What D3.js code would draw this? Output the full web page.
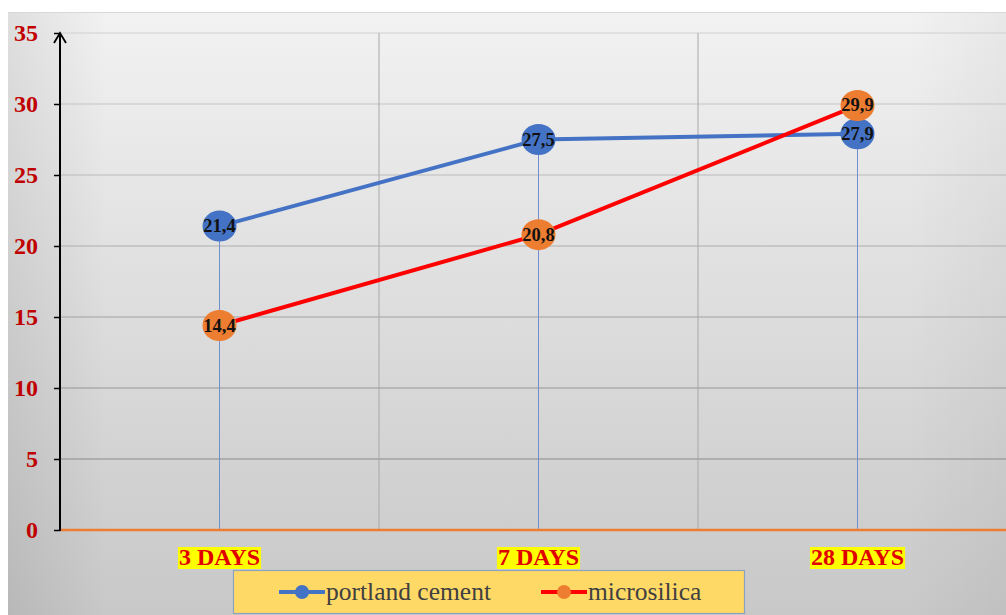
<!DOCTYPE html>
<html><head><meta charset="utf-8">
<script src="https://cdn.jsdelivr.net/npm/d3@7"></script>
<style>html,body{margin:0;padding:0;background:#fff;}svg{display:block;}</style>
</head><body>
<script>
const categories = ["3 DAYS", "7 DAYS", "28 DAYS"];
const portland = [21.4, 27.5, 27.9];
const microsilica = [14.4, 20.8, 29.9];
const portlandLabels = ["21,4", "27,5", "27,9"];
const microLabels = ["14,4", "20,8", "29,9"];
const yTicks = [0, 5, 10, 15, 20, 25, 30, 35];
const seriesNames = ["portland cement", "microsilica"];

const W = 1006, H = 615;
const svg = d3.select("body").append("svg").attr("width", W).attr("height", H);
const defs = svg.append("defs");
const bg = defs.append("linearGradient").attr("id", "bg").attr("x1", 0).attr("y1", 0).attr("x2", 0).attr("y2", 1);
bg.append("stop").attr("offset", "0%").attr("stop-color", "#f2f2f2");
bg.append("stop").attr("offset", "100%").attr("stop-color", "#c8c8c8");
const side = defs.append("linearGradient").attr("id", "side").attr("x1", 0).attr("y1", 0).attr("x2", 1).attr("y2", 0);
side.append("stop").attr("offset", "0%").attr("stop-color", "#000").attr("stop-opacity", 0.08);
side.append("stop").attr("offset", "10%").attr("stop-color", "#000").attr("stop-opacity", 0);
side.append("stop").attr("offset", "90%").attr("stop-color", "#000").attr("stop-opacity", 0);
side.append("stop").attr("offset", "100%").attr("stop-color", "#000").attr("stop-opacity", 0.04);

svg.append("rect").attr("x", 8).attr("y", 12).attr("width", W - 8).attr("height", H - 12).attr("fill", "url(#bg)");
svg.append("rect").attr("x", 8).attr("y", 12).attr("width", W - 8).attr("height", H - 12).attr("fill", "url(#side)");
svg.append("line").attr("x1", 8).attr("x2", W).attr("y1", 12.5).attr("y2", 12.5).attr("stroke", "#d8d8d8");

const x = d3.scaleBand().domain(categories).range([60, 1017]);
const y = d3.scaleLinear().domain([0, 35]).range([530, 33]);
const cx = c => x(c) + x.bandwidth() / 2;
const serif = "'Liberation Serif', 'Times New Roman', serif";

// horizontal grid
const gridCol = d3.scaleLinear().domain([0, 35]).range(["#7e7e7e", "#d0d0d0"]);
svg.append("g").selectAll("line").data(yTicks.filter(t => t > 0)).join("line")
  .attr("x1", 60).attr("x2", W).attr("y1", d => y(d)).attr("y2", d => y(d))
  .attr("stroke", d => gridCol(d)).attr("stroke-width", 1.2);
// vertical grid at band boundaries
svg.append("g").selectAll("line").data(categories.slice(1)).join("line")
  .attr("x1", d => x(d)).attr("x2", d => x(d)).attr("y1", y(35)).attr("y2", y(0))
  .attr("stroke", "#a8a8a8").attr("stroke-width", 1);

// drop lines
svg.append("g").selectAll("line").data(categories).join("line")
  .attr("x1", (d) => cx(d)).attr("x2", d => cx(d))
  .attr("y1", (d, i) => y(Math.max(portland[i], microsilica[i]))).attr("y2", y(0))
  .attr("stroke", "#6f8fd0").attr("stroke-width", 1);

// zero line
svg.append("line").attr("x1", 60).attr("x2", W).attr("y1", y(0)).attr("y2", y(0))
  .attr("stroke", "#ED7D31").attr("stroke-width", 2.5);

// y axis
const yAxis = d3.axisLeft(y).tickValues(yTicks).tickSize(6).tickPadding(16).tickFormat(d3.format("d"));
const ya = svg.append("g").attr("transform", "translate(60,0)").call(yAxis);
ya.select(".domain").remove();
ya.selectAll(".tick line").attr("stroke", "#000").attr("stroke-width", 1.5);
ya.selectAll(".tick text").attr("fill", "#C00000").attr("font-family", serif).attr("font-weight", "bold").attr("font-size", 24).attr("dy", "0.3em");
svg.append("line").attr("x1", 60).attr("x2", 60).attr("y1", y(35)).attr("y2", y(0) + 1).attr("stroke", "#000").attr("stroke-width", 2);
svg.append("path").attr("d", `M${60 - 6},${y(35) + 10} L60,${y(35)} L${60 + 6},${y(35) + 10}`)
  .attr("fill", "none").attr("stroke", "#000").attr("stroke-width", 1.8);

// x labels
const xl = svg.append("g");
categories.forEach(c => {
  const g = xl.append("g");
  const t = g.append("text").attr("x", cx(c)).attr("y", 565).attr("text-anchor", "middle")
    .attr("font-family", serif).attr("font-weight", "bold").attr("font-size", 24).attr("fill", "#E00000").text(c);
  const bb = t.node().getBBox();
  g.insert("rect", "text").attr("x", bb.x - 1).attr("y", bb.y + 3).attr("width", bb.width + 2).attr("height", bb.height - 4).attr("fill", "#FFFF00");
});

// lines
const line = d3.line().x((d, i) => cx(categories[i])).y(d => y(d));
svg.append("path").datum(portland).attr("d", line).attr("fill", "none").attr("stroke", "#4472C4").attr("stroke-width", 4);
svg.append("path").datum(microsilica).attr("d", line).attr("fill", "none").attr("stroke", "#FF0000").attr("stroke-width", 4);

function markers(vals, labels, color) {
  const g = svg.append("g");
  g.selectAll("ellipse").data(vals).join("ellipse")
    .attr("cx", (d, i) => cx(categories[i])).attr("cy", d => y(d)).attr("rx", 17).attr("ry", 15.5).attr("fill", color);
  g.selectAll("text").data(vals).join("text")
    .attr("x", (d, i) => cx(categories[i])).attr("y", d => y(d) + 6).attr("text-anchor", "middle")
    .attr("font-family", serif).attr("font-weight", "bold").attr("font-size", 18.5).attr("fill", "#111")
    .text((d, i) => labels[i]);
}
markers(portland, portlandLabels, "#4472C4");
markers(microsilica, microLabels, "#ED7D31");

// legend
const lg = svg.append("g");
lg.append("rect").attr("x", 233.5).attr("y", 570.5).attr("width", 511).attr("height", 43).attr("fill", "#FFD966").attr("stroke", "#8aa3c0").attr("stroke-width", 1.2);
const items = [{name: seriesNames[0], line: "#4472C4", dot: "#4472C4", x: 279}, {name: seriesNames[1], line: "#FF0000", dot: "#ED7D31", x: 541}];
items.forEach(it => {
  lg.append("line").attr("x1", it.x).attr("x2", it.x + 46).attr("y1", 592).attr("y2", 592).attr("stroke", it.line).attr("stroke-width", 4);
  lg.append("circle").attr("cx", it.x + 23).attr("cy", 592).attr("r", 7).attr("fill", it.dot);
  lg.append("text").attr("x", it.x + 47).attr("y", 600).attr("font-family", serif).attr("font-size", 25.5).attr("fill", "#404040").text(it.name);
});
</script>
</body></html>
